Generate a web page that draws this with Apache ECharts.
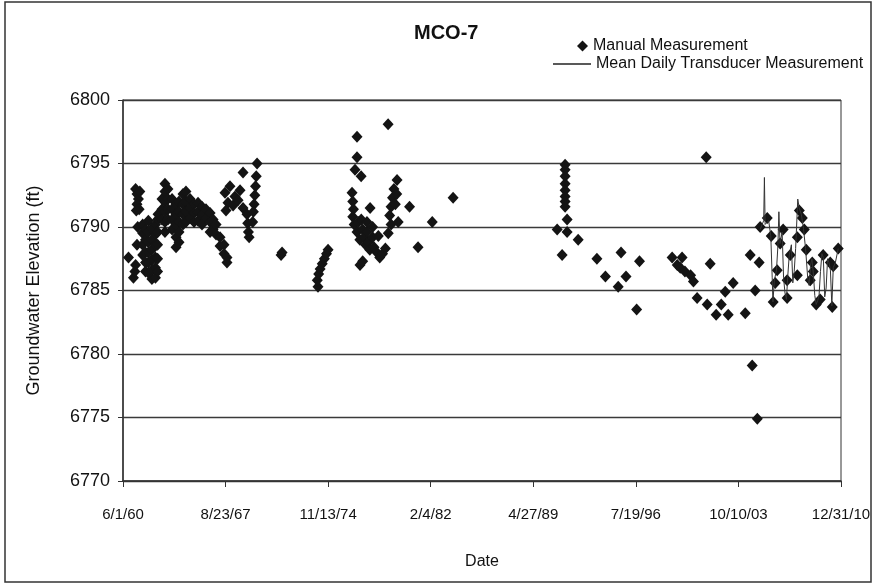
<!DOCTYPE html>
<html>
<head>
<meta charset="utf-8">
<script src="https://cdn.jsdelivr.net/npm/echarts@6/dist/echarts.min.js"></script>
<style>html,body{margin:0;padding:0;background:#fff;}#c{width:875px;height:584px;}</style>
</head>
<body>
<div id="c"></div>
<script>
// ---- data ----
const chartTitle = 'MCO-7';
const xTickLabels = ['6/1/60','8/23/67','11/13/74','2/4/82','4/27/89','7/19/96','10/10/03','12/31/10'];
const xStartYear = 1960.414;   // 6/1/60
const xSpanDays = 18475;       // 6/1/60 -> 12/31/10

// Manual measurements [decimal year, elevation ft]
const manual1960s = [
  [1960.8,6787.6],[1961.15,6786.0],[1961.25,6786.5],[1961.3,6787.0],[1961.4,6788.6],[1961.45,6790.0],
  [1961.3,6793.0],[1961.4,6792.6],[1961.5,6792.2],[1961.4,6791.8],[1961.55,6791.4],[1961.6,6792.8],[1961.35,6791.3],
  [1961.8,6790.2],[1961.8,6789.5],[1961.8,6788.6],[1961.8,6787.8],
  [1962.0,6789.8],[1962.0,6789.0],[1962.0,6788.0],[1962.0,6787.2],[1962.0,6786.5],
  [1962.2,6790.5],[1962.2,6789.6],[1962.2,6788.8],[1962.2,6788.0],[1962.2,6787.2],[1962.2,6786.4],
  [1962.45,6789.9],[1962.45,6789.0],[1962.45,6788.2],[1962.45,6787.4],[1962.45,6786.6],[1962.45,6785.9],
  [1962.7,6790.2],[1962.7,6789.4],[1962.7,6788.6],[1962.7,6787.6],[1962.7,6786.8],[1962.7,6786.0],
  [1962.85,6790.6],[1962.85,6789.6],[1962.85,6788.6],[1962.85,6787.5],[1962.85,6786.5],
  [1962.88,6791.0],[1963.16,6792.2],[1963.16,6791.4],[1963.16,6790.6],
  [1963.37,6793.4],[1963.37,6792.8],[1963.37,6792.0],[1963.37,6791.2],[1963.37,6790.4],[1963.37,6789.6],
  [1963.58,6793.0],[1963.58,6792.2],[1963.58,6791.4],[1963.58,6790.6],
  [1963.87,6792.2],[1963.87,6791.4],[1963.87,6790.6],[1963.87,6789.8],
  [1964.15,6791.8],[1964.15,6791.0],[1964.15,6790.2],[1964.15,6789.2],[1964.15,6788.4],
  [1964.36,6792.0],[1964.36,6791.2],[1964.36,6790.4],[1964.36,6789.6],[1964.36,6788.8],
  [1964.64,6792.6],[1964.64,6791.8],[1964.64,6791.0],[1964.64,6790.2],
  [1964.85,6792.8],[1964.85,6792.0],[1964.85,6791.2],[1964.85,6790.4],
  [1965.14,6792.2],[1965.14,6791.5],[1965.14,6790.7],
  [1965.42,6791.8],[1965.42,6791.1],[1965.42,6790.4],
  [1965.7,6791.9],[1965.7,6791.2],[1965.7,6790.5],
  [1965.98,6791.6],[1965.98,6790.9],[1965.98,6790.2],
  [1966.26,6791.4],[1966.26,6790.7],
  [1966.55,6791.1],[1966.55,6790.4],[1966.55,6789.6],
  [1966.76,6790.6],[1966.76,6789.8],[1966.97,6790.2],[1966.97,6789.4],
  [1967.25,6789.2],[1967.25,6788.5],[1967.53,6788.6],[1967.53,6787.9],[1967.74,6787.6],[1967.74,6787.2],
  [1967.6,6792.7],[1967.95,6793.2],[1968.3,6792.4],[1968.66,6792.9],[1967.81,6791.9],[1968.17,6791.7],
  [1968.52,6792.1],[1968.87,6791.5],[1967.67,6791.3],[1968.87,6794.3],
  [1969.15,6791.0],[1969.2,6790.3],[1969.25,6789.6],[1969.3,6789.2],
  [1969.86,6795.0],[1969.8,6794.0],[1969.75,6793.2],[1969.7,6792.5],[1969.65,6791.8],[1969.6,6791.2],[1969.55,6790.4]
];
const manual1970s = [
  [1971.55,6787.8],[1971.62,6788.0],
  [1974.15,6785.3],[1974.1,6785.8],[1974.2,6786.3],[1974.3,6786.7],[1974.45,6787.1],[1974.6,6787.5],[1974.75,6787.9],[1974.86,6788.2],
  [1979.09,6798.1],[1976.9,6797.1],[1976.9,6795.5],[1976.76,6794.5],[1977.19,6794.0],
  [1976.55,6792.7],[1976.6,6792.0],[1976.65,6791.4],[1976.6,6790.8],[1977.82,6791.5],
  [1976.7,6790.2],[1976.9,6789.6],[1977.0,6790.4],[1977.1,6789.0],[1977.3,6789.8],[1977.4,6789.2],
  [1977.5,6788.6],[1977.6,6789.6],[1977.7,6788.8],[1977.8,6788.2],[1978.0,6789.2],[1978.1,6788.4],
  [1978.3,6788.0],[1978.5,6787.6],[1978.7,6787.9],[1978.9,6788.3],[1977.2,6790.6],[1977.6,6790.4],
  [1978.0,6790.0],[1978.4,6789.3],[1977.11,6787.0],[1977.3,6787.3],
  [1979.72,6793.7],[1979.5,6793.0],[1979.4,6792.3],[1979.3,6791.6],[1979.2,6790.9],[1979.3,6790.2],
  [1979.6,6791.8],[1979.7,6792.6],[1979.8,6790.4],[1979.1,6789.5],
  [1980.6,6791.6],[1982.2,6790.4],[1981.2,6788.4],[1983.67,6792.3]
];
const manual1990s = [
  [1991.56,6794.9],[1991.56,6794.5],[1991.56,6794.0],[1991.56,6793.4],[1991.56,6792.9],[1991.56,6792.4],
  [1991.56,6792.0],[1991.56,6791.6],[1991.7,6790.6],[1991.0,6789.8],[1991.7,6789.6],[1992.48,6789.0],
  [1991.35,6787.8],[1993.8,6787.5],[1995.5,6788.0],[1994.4,6786.1],[1995.85,6786.1],[1995.3,6785.3],
  [1996.8,6787.3],[1996.6,6783.5],
  [1999.1,6787.6],[1999.46,6787.0],[1999.8,6787.6],[1999.67,6786.8],[2000.0,6786.5],[2000.4,6786.2],[2000.6,6785.7]
];
const manual2000s = [
  [2000.86,6784.4],[2001.5,6795.5],[2001.57,6783.9],[2001.78,6787.1],[2002.2,6783.1],[2002.56,6783.9],
  [2002.84,6784.9],[2003.05,6783.1],[2003.4,6785.6],[2004.25,6783.2],[2004.6,6787.8],[2005.23,6787.2],
  [2004.95,6785.0],[2004.74,6779.1],[2005.1,6774.9],[2005.3,6790.0],[2005.8,6790.7],[2006.08,6789.3],
  [2006.22,6784.1],[2006.36,6785.6],[2006.5,6786.6],[2006.71,6788.7],[2006.92,6789.8],[2007.2,6785.8],
  [2007.2,6784.4],[2007.42,6787.8],[2007.92,6789.2],[2007.92,6786.2],[2008.06,6791.3],[2008.27,6790.7],
  [2008.41,6789.8],[2008.55,6788.2],[2008.83,6785.8],[2008.97,6787.2],[2009.04,6786.5],[2009.25,6783.9],
  [2009.53,6784.3],[2009.74,6787.8],[2010.24,6787.2],[2010.38,6783.7],[2010.45,6786.9],[2010.8,6788.3]
];
// Mean daily transducer [decimal year, elevation ft]
const transducer = [
  [2005.3,6789.8],[2005.55,6790.5],[2005.6,6793.9],[2005.65,6790.2],[2005.9,6790.5],[2006.05,6789.3],
  [2006.15,6786.0],[2006.2,6784.1],[2006.3,6785.8],[2006.45,6786.6],[2006.55,6788.5],[2006.62,6791.2],
  [2006.7,6788.7],[2006.85,6789.6],[2006.95,6786.0],[2007.05,6784.8],[2007.15,6784.3],[2007.25,6786.2],
  [2007.35,6787.8],[2007.5,6788.6],[2007.6,6785.6],[2007.7,6786.5],[2007.8,6788.3],[2007.95,6792.2],
  [2008.05,6791.5],[2008.2,6791.0],[2008.35,6789.9],[2008.5,6788.3],[2008.65,6786.0],[2008.75,6785.4],
  [2008.85,6787.0],[2008.95,6787.5],[2009.05,6786.3],[2009.15,6784.6],[2009.25,6783.9],[2009.35,6784.2],
  [2009.45,6784.6],[2009.55,6786.5],[2009.65,6787.9],[2009.75,6787.6],[2009.85,6784.5],[2009.95,6785.2],
  [2010.05,6787.5],[2010.15,6787.2],[2010.25,6786.6],[2010.35,6783.8],[2010.45,6786.8],[2010.6,6787.2],
  [2010.8,6788.3]
];

// ---- build ----
const toX = y => (y - xStartYear) * 365.25 / xSpanDays * 700;
const conv = arr => arr.map(p => [toX(p[0]), p[1]]);
const manualAll = conv([].concat(manual1960s, manual1970s, manual1990s, manual2000s));
const transAll = conv(transducer);

const FONT = 'Liberation Sans, Arial, sans-serif';
const chart = echarts.init(document.getElementById('c'));
chart.setOption({
  animation: false,
  backgroundColor: '#fff',
  title: {
    text: chartTitle, left: 409, top: 18,
    textStyle: { fontFamily: FONT, fontSize: 20, fontWeight: 'bold', color: '#111' }
  },
  legend: [
    { data: [{ name: 'Manual Measurement', icon: 'diamond' }], left: 572, top: 33, itemWidth: 11, itemHeight: 11,
      textStyle: { fontFamily: FONT, fontSize: 16, color: '#111' } },
    { data: [{ name: 'Mean Daily Transducer Measurement', icon: 'rect' }], left: 548, top: 51, itemWidth: 38, itemHeight: 1.5,
      textStyle: { fontFamily: FONT, fontSize: 16, color: '#111' } }
  ],
  graphic: [{
    type: 'rect', shape: { x: 5, y: 2, width: 866, height: 580 },
    style: { fill: 'none', stroke: '#333', lineWidth: 1.5 }, silent: true
  }],
  grid: { left: 123, right: 34, top: 100, bottom: 103, show: true, borderColor: '#333', borderWidth: 1 },
  xAxis: {
    type: 'value', min: 0, max: 700, interval: 100,
    name: 'Date', nameLocation: 'middle', nameGap: 73,
    nameTextStyle: { fontFamily: FONT, fontSize: 16, color: '#111' },
    axisLine: { lineStyle: { color: '#333', width: 1.5 } },
    axisTick: { show: true, length: 6, lineStyle: { color: '#333' } },
    axisLabel: { margin: 26, fontFamily: FONT, fontSize: 15, color: '#111',
      formatter: v => xTickLabels[Math.round(v / 100)] },
    splitLine: { show: false }
  },
  yAxis: {
    type: 'value', min: 6770, max: 6800, interval: 5,
    name: 'Groundwater Elevation (ft)', nameLocation: 'middle', nameGap: 80, nameRotate: 90,
    nameTextStyle: { fontFamily: FONT, fontSize: 18, color: '#111' },
    axisLine: { show: true, lineStyle: { color: '#333', width: 1.5 } },
    axisTick: { show: true, length: 5, lineStyle: { color: '#333' } },
    axisLabel: { margin: 13, fontFamily: FONT, fontSize: 18, color: '#111', formatter: v => String(v) },
    splitLine: { show: true, lineStyle: { color: '#3a3a3a', width: 1.3 } }
  },
  series: [
    { name: 'Manual Measurement', type: 'scatter', data: manualAll, symbol: 'diamond', symbolSize: [11, 12],
      itemStyle: { color: '#141414', opacity: 1 }, z: 3 },
    { name: 'Mean Daily Transducer Measurement', type: 'line', data: transAll, symbol: 'none',
      lineStyle: { color: '#333', width: 1 }, itemStyle: { color: '#222' }, z: 4 }
  ]
});
</script>
</body>
</html>
